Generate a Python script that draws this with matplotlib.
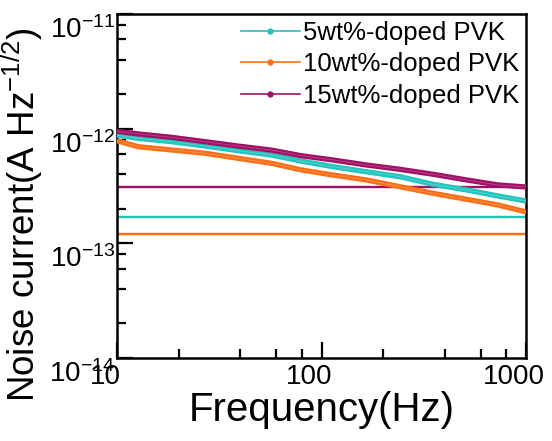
import numpy as np
import matplotlib
matplotlib.use("Agg")
import matplotlib.pyplot as plt
from matplotlib.lines import Line2D
from matplotlib.ticker import FixedLocator, FuncFormatter, NullFormatter
from matplotlib.transforms import ScaledTranslation

plt.rcParams['font.family'] = ['Liberation Sans', 'DejaVu Sans']
plt.rcParams['mathtext.fontset'] = 'custom'
plt.rcParams['mathtext.rm'] = 'Liberation Sans'
plt.rcParams['mathtext.it'] = 'Liberation Sans:italic'
plt.rcParams['mathtext.bf'] = 'Liberation Sans:bold'

# ---- data ----
freq = [10, 12.7, 18.5, 27, 39, 57, 80, 114, 166, 242, 352, 513, 730, 1000]
noise_5wt = [8.8e-13, 8.24e-13, 7.7e-13, 7.06e-13, 6.43e-13, 5.89e-13, 5.2e-13,
             4.66e-13, 4.21e-13, 3.81e-13, 3.27e-13, 2.92e-13, 2.59e-13, 2.34e-13]
noise_10wt = [7.85e-13, 6.96e-13, 6.52e-13, 6.10e-13, 5.52e-13, 4.99e-13, 4.36e-13,
              3.94e-13, 3.57e-13, 3.12e-13, 2.73e-13, 2.42e-13, 2.16e-13, 1.88e-13]
noise_15wt = [9.5e-13, 9.0e-13, 8.4e-13, 7.7e-13, 7.06e-13, 6.5e-13, 5.8e-13,
              5.33e-13, 4.82e-13, 4.42e-13, 4.0e-13, 3.57e-13, 3.23e-13, 3.10e-13]
floor_levels = [1.68e-13, 1.20e-13, 3.10e-13]   # 5wt, 10wt, 15wt horizontal lines
labels = ['5wt%-doped PVK', '10wt%-doped PVK', '15wt%-doped PVK']
colors = ['#22c4be', '#fb6e16', '#a01066']
light = ['#8fe2de', '#fdb27f', '#cf7aa8']

x_major = [10, 100, 1000]
x_minor = [20, 40, 60, 80, 200, 400, 600, 800]
y_major = [1e-14, 1e-13, 1e-12, 1e-11]

fig = plt.figure(figsize=(5.52, 4.41), dpi=100)
ax = fig.add_axes([117/552, 1 - 358/441, 409/552, 344/441])
ax.set_xscale('log')
ax.set_yscale('log')
ax.set_xlim(10, 1000)
ax.set_ylim(1e-14, 1e-11)

series = [noise_5wt, noise_10wt, noise_15wt]
for lvl, c in zip(floor_levels, colors):
    ax.axhline(lvl, color=c, lw=1.7, zorder=2)
for s, c, lc in zip(series, colors, light):
    ax.plot(freq, s, color=c, lw=3.8, solid_capstyle='butt', zorder=3)
    ax.plot(freq, s, color=lc, lw=0.7, alpha=0.45, zorder=4)

# ticks
ax.xaxis.set_major_locator(FixedLocator(x_major))
ax.xaxis.set_minor_locator(FixedLocator(x_minor))
ax.xaxis.set_major_formatter(FuncFormatter(lambda v, p: '%d' % round(v)))
ax.xaxis.set_minor_formatter(NullFormatter())
minors_y = [m * 10.0**e for e in (-14, -13, -12) for m in (2, 4, 6, 8)]
ax.yaxis.set_major_locator(FixedLocator(y_major))
ax.yaxis.set_minor_locator(FixedLocator(minors_y))
ax.yaxis.set_major_formatter(FuncFormatter(
    lambda v, p: r'$\mathregular{10^{%d}}$' % round(np.log10(v))))
ax.yaxis.set_minor_formatter(NullFormatter())

ax.tick_params(which='both', direction='in', top=False, right=False, width=1.6)
ax.tick_params(which='major', length=11.5)
ax.tick_params(which='minor', length=6.5)
ax.tick_params(axis='x', which='major', labelsize=20, pad=4.5)
ax.tick_params(axis='y', which='major', labelsize=20, pad=1.5)
for sp in ax.spines.values():
    sp.set_linewidth(1.8)

for lab in ax.get_xticklabels():
    lab.set_transform(lab.get_transform() + ScaledTranslation(-0.12, 0, fig.dpi_scale_trans))
for lab in ax.get_yticklabels():
    lab.set_transform(lab.get_transform() + ScaledTranslation(0, -0.13, fig.dpi_scale_trans))

ax.set_xlabel('Frequency(Hz)', fontsize=29)
ax.set_ylabel(r'Noise current(A Hz$^{\mathregular{-1/2}}$)', fontsize=26.5)
ax.xaxis.set_label_coords(0.5, -0.095)
ax.yaxis.set_label_coords(-0.177, 0.417)

handles = [Line2D([], [], color=c, lw=1.2, marker='o', markersize=3.5) for c in colors]
ax.legend(handles, labels, loc='upper left', bbox_to_anchor=(0.303, 0.981),
          frameon=False, fontsize=18.5, handlelength=2.3, handletextpad=0.12,
          labelspacing=0.3, borderpad=0, borderaxespad=0)

fig.savefig('out.png', dpi=100)
